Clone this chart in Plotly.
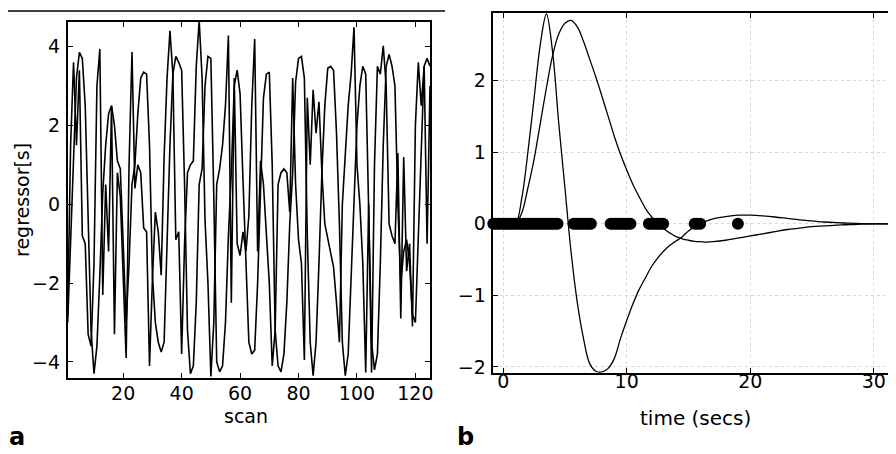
import plotly.graph_objects as go

# ---------------- data: panel a ----------------
scans = list(range(1, 126))
regressor_1 = [
    -3.0, -1.0, 1.5, 3.2, 3.85, 3.7, 2.5, -0.5, -3.2, -4.3,
    -3.6, -1.8, 0.3, 1.5, 2.3, 2.5, 2.0, 1.1, 0.9, -1.0,
    -3.0, -1.5, 0.5, 1.0, 2.3, 3.2, 3.35, 3.3, 1.5, -1.8,
    -3.0, -3.5, -3.75, -3.5, -1.0, 1.5, 3.3, 3.75, 3.6, 3.4,
    0.5, -3.2, -4.3, -4.1, -2.5, 0.5, 0.9, 3.0, 3.75, 3.7,
    0.2, -4.0, -4.25, -4.1, -3.0, -0.8, 0.8, 3.0, 3.4, 2.8,
    0.6, -1.5, -3.5, -3.8, -3.7, -2.0, 0.2, 2.7, 3.3, 3.35,
    1.0, -3.2, -4.1, -4.25, -3.8, -2.5, -0.5, 0.8, 3.1, 3.7,
    3.75, 3.2, -0.8, -3.5, -4.35, -3.5, -1.5, 0.8, 2.5, 3.45,
    3.5, 3.4, 1.8, -0.5, -3.5, -4.35, -3.8, -1.8, 0.5, 2.0,
    3.0, 3.5, 3.3, 0.2, -3.5, -4.2, -3.8, -1.5, 1.5, 3.5,
    3.8, 3.5, 3.0, 0.0, -2.0, -1.2, -0.9, -1.5, -2.8, -3.0,
    -1.0, 1.5, 3.5, 3.7, 3.5,
]
regressor_2 = [
    -2.8, 1.5, 3.6, 1.5, 3.4, -0.8, -1.0, -3.3, -3.6, -1.5,
    3.0, 3.94, -2.3, 0.5, -1.2, 2.5, -3.3, 0.8, 0.2, -2.0,
    -3.9, 1.0, 3.86, 0.4, 1.0, 0.8, -0.6, -0.7, -4.1, -1.9,
    -0.2, -0.7, -1.8, 1.2, 3.2, 4.4, 3.3, -0.9, -0.7, -3.8,
    -1.0, 0.8, 1.0, 1.1, 3.5, 4.66, 3.2, -0.4, -2.0, -4.37,
    -3.0, 0.5, 0.9, 1.5, 2.5, 4.28, -2.5, 3.2, -1.0, -1.3,
    -0.7, -1.2, -0.3, 2.5, 4.19, -1.2, 1.1, 0.5, -0.8, -2.0,
    -4.1, -3.2, 0.5, 0.8, 0.9, 0.8, -0.2, 3.2, 0.5, -0.9,
    -1.5, -3.95, 2.7, 1.0, 2.9, 1.8, 2.6, 0.8, -0.5, -0.9,
    -1.2, -1.6, -2.5, -3.5, 0.0, 1.3, 2.5, 3.3, 4.49, 1.0,
    0.0, -1.5, -4.27, 0.0, -4.27, 1.0, 3.5, 3.3, 4.02, 3.0,
    -0.5, -0.8, -1.0, 1.3, -2.9, 1.2, -1.7, -1.0, -3.1, 2.0,
    3.6, 2.5, 3.5, -1.0, 3.0,
]
scan_ticks = [20, 40, 60, 80, 100, 120]
regressor_ticks = [-4, -2, 0, 2, 4]

# ---------------- data: panel b ----------------
time_s = [0, 0.5, 1, 1.5, 2, 2.5, 3, 3.5, 4, 4.5, 5, 5.5, 6, 6.5, 7, 7.5, 8, 8.5,
          9, 9.5, 10, 10.5, 11, 11.5, 12, 12.5, 13, 13.5, 14, 14.5, 15, 15.5, 16,
          16.5, 17, 18, 19, 20, 21, 22, 23, 24, 25, 26, 27, 28, 29, 30, 31, 32]
basis_1 = [0, 0, 0, 0.35, 1.0, 1.75, 2.5, 2.93, 2.4, 1.4, 0.5, -0.4, -1.1, -1.6,
           -1.95, -2.06, -2.07, -2.02, -1.88, -1.6, -1.35, -1.12, -0.92, -0.76,
           -0.6, -0.48, -0.38, -0.3, -0.24, -0.18, -0.1, -0.04, 0.01, 0.04, 0.07,
           0.1, 0.12, 0.12, 0.11, 0.095, 0.075, 0.055, 0.04, 0.025, 0.015, 0.008,
           0.003, 0, 0, 0]
basis_2 = [0, 0, 0, 0.15, 0.5, 0.9, 1.4, 1.9, 2.35, 2.65, 2.8, 2.84, 2.75, 2.55,
           2.3, 2.05, 1.78, 1.5, 1.22, 0.97, 0.75, 0.55, 0.38, 0.22, 0.1, 0.0,
           -0.07, -0.13, -0.18, -0.21, -0.23, -0.245, -0.25, -0.255, -0.25, -0.23,
           -0.2, -0.17, -0.14, -0.11, -0.08, -0.06, -0.04, -0.03, -0.02, -0.01,
           -0.005, 0, 0, 0]
event_times = [-0.8, -0.6, -0.4, -0.2, 0.0, 0.2, 0.4, 0.6, 0.8, 1.0, 1.2, 1.4, 1.6,
               1.8, 2.0, 2.2, 2.4, 2.6, 2.8, 3.0, 3.2, 3.4, 3.6, 3.8, 4.0, 4.2, 4.4,
               5.7, 5.9, 6.1, 6.3, 6.5, 6.7, 6.9, 7.1,
               8.7, 8.9, 9.1, 9.3, 9.5, 9.7, 9.9, 10.1, 10.3,
               11.8, 12.0, 12.2, 12.4, 12.6, 12.8, 12.95,
               15.5, 15.7, 15.95,
               19.0]
event_values = [0] * len(event_times)
time_ticks = [0, 10, 20, 30]
basis_ticks = [-2, -1, 0, 1, 2]

# The page places the figure 8 px in from the top-left corner (default body margin),
# so the figure is 8 px smaller and all positions are measured from that offset.
OFF = 8
W, H = 896 - OFF, 454 - OFF
FONT = "DejaVu Sans"

fig = go.Figure()
fig.add_trace(go.Scatter(x=scans, y=regressor_1, mode="lines",
                         line=dict(color="black", width=1.6), xaxis="x", yaxis="y"))
fig.add_trace(go.Scatter(x=scans, y=regressor_2, mode="lines",
                         line=dict(color="black", width=1.6), xaxis="x", yaxis="y"))
fig.add_trace(go.Scatter(x=time_s, y=basis_1, mode="lines", line_shape="spline",
                         line=dict(color="black", width=1.3), xaxis="x2", yaxis="y2"))
fig.add_trace(go.Scatter(x=time_s, y=basis_2, mode="lines", line_shape="spline",
                         line=dict(color="black", width=1.3), xaxis="x2", yaxis="y2"))
fig.add_trace(go.Scatter(x=event_times, y=event_values, mode="markers",
                         marker=dict(color="black", size=12), cliponaxis=False,
                         xaxis="x2", yaxis="y2"))

def px_x(p):
    return min(max((p - OFF) / W, 0.0), 1.0)

def px_y(p):
    return min(max(1 - (p - OFF) / H, 0.0), 1.0)

axis_common = dict(showline=True, linecolor="black", mirror="ticks", ticks="inside",
                   tickcolor="black", ticklen=5, zeroline=False, automargin=False,
                   tickfont=dict(family=FONT, size=19, color="black"))

fig.update_layout(
    width=W, height=H, margin=dict(l=0, r=0, t=0, b=0, pad=0, autoexpand=False),
    paper_bgcolor="white", plot_bgcolor="white", showlegend=False,
    xaxis=dict(domain=[px_x(67.7), px_x(430)], range=[1, 125], tickvals=scan_ticks,
               linewidth=1.8, showgrid=False, ticklabelstandoff=-2, anchor="y", **axis_common),
    yaxis=dict(domain=[px_y(377.7), px_y(21.7)], range=[-4.4, 4.63], tickvals=regressor_ticks,
               linewidth=1.8, showgrid=False, ticklabelstandoff=2, anchor="x", **axis_common),
    xaxis2=dict(domain=[px_x(493.3), 1.0], range=[-0.8, 31.8], tickvals=time_ticks,
                linewidth=1.5, showgrid=True, gridcolor="#d8d8d8", griddash="dot",
                ticklabelstandoff=-9, anchor="y2", **axis_common),
    yaxis2=dict(domain=[px_y(372.7), px_y(13.3)], range=[-2.08, 2.94], tickvals=basis_ticks,
                linewidth=1.5, showgrid=True, gridcolor="#d8d8d8", griddash="dot",
                ticklabelstandoff=2, anchor="x2", **axis_common),
)

fig.add_shape(type="line", xref="paper", yref="paper",
              x0=px_x(3), x1=px_x(445), y0=px_y(11), y1=px_y(11),
              line=dict(color="black", width=1.5))

def label(text, x, y, size=19, angle=0, bold=False, xanchor="center", yanchor="middle"):
    fig.add_annotation(text=f"<b>{text}</b>" if bold else text, xref="paper", yref="paper",
                       x=px_x(x), y=px_y(y), xanchor=xanchor, yanchor=yanchor,
                       showarrow=False, textangle=angle, borderpad=0,
                       font=dict(family=FONT, size=size, color="black"))

label("scan", 246, 416)
label("regressor[s]", 22, 200, angle=-90)
label("time (secs)", 695, 418, size=20)
label("a", 8, 452, size=24, bold=True, xanchor="left", yanchor="bottom")
label("b", 466, 452, size=24, bold=True, yanchor="bottom")

fig.write_html("out.html")
